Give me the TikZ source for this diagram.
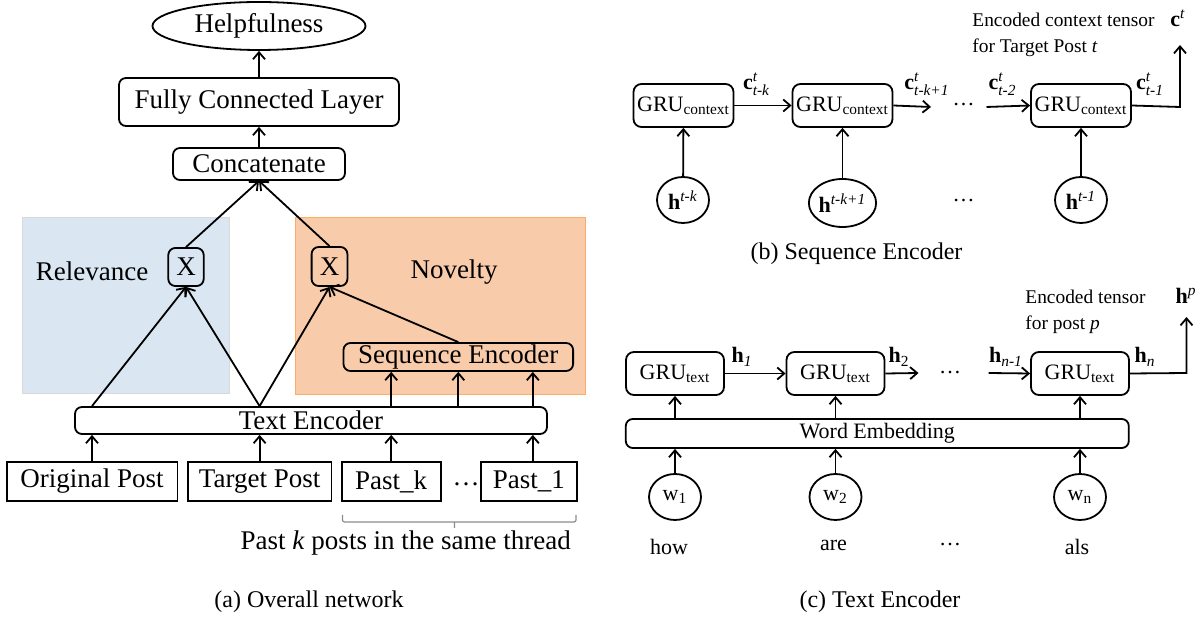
\documentclass[tikz,border=0pt]{standalone}
\usepackage{amsmath}
\usepackage{fontspec}
\setmainfont{Liberation Serif}
\usepackage{tikz}
\usetikzlibrary{arrows.meta,positioning,shapes.geometric,calc}
\definecolor{relblue}{RGB}{218,231,243}
\definecolor{novorange}{RGB}{248,203,170}

\begin{document}
\begin{tikzpicture}[
    x=0.5pt, y=-0.5pt,
    box/.style={draw, line width=0.9pt, rounded corners=3.5pt, inner sep=0pt,
                font=\fontsize{13.5}{16}\selectfont},
    inbox/.style={draw, line width=0.9pt, inner sep=0pt, minimum height=19.5pt,
                  font=\fontsize{13.5}{16}\selectfont},
    gru/.style={draw, line width=0.9pt, rounded corners=4pt, inner sep=0pt,
                minimum width=50pt, minimum height=21.5pt, font=\fontsize{11}{13}\selectfont},
    tok/.style={draw, ellipse, line width=0.9pt, inner sep=0pt, minimum width=26pt,
                minimum height=23pt, font=\fontsize{11}{13}\selectfont},
    arr/.style={-{Straight Barb[length=3.5pt,width=6pt]}, line width=0.9pt},
    big/.style={font=\fontsize{13.5}{16}\selectfont},
    mid/.style={font=\fontsize{11}{13}\selectfont},
    sml/.style={font=\fontsize{9.7}{12}\selectfont, align=left},
    captxt/.style={font=\fontsize{12}{14}\selectfont}
  ]
  \useasboundingbox (0,0) rectangle (1199,619);

  % --- (a) overall network ---
  \fill[relblue, draw=black!15] (22,217) rectangle (229,393);
  \fill[novorange, draw=orange!40!novorange] (295,217) rectangle (585,394);

  \node[draw, ellipse, line width=0.9pt, minimum width=106.5pt, minimum height=24pt,
        inner sep=0pt, big] (help) at (259,26) {Helpfulness};
  \node[box, minimum width=140pt, minimum height=24pt] (fcl) at (259,102) {Fully Connected Layer};
  \node[box, minimum width=86pt, minimum height=16pt] (concat) at (259,164) {Concatenate};
  \node[box, minimum width=17.7pt, minimum height=19pt] (xrel) at (186,267) {X};
  \node[box, minimum width=17.9pt, minimum height=19.5pt] (xnov) at (329.5,266.5) {X};
  \node[big] (rel) at (92,271) {Relevance};
  \node[big] (nov) at (454,272) {Novelty};
  \node[box, minimum width=114.8pt, minimum height=14pt] (seqenc) at (458.3,357) {Sequence Encoder};
  \node[box, minimum width=236pt, minimum height=13.5pt] (textenc) at (311,420.5) {Text Encoder};

  \node[inbox, minimum width=85.4pt] (orig) at (92,481.5) {Original Post};
  \node[inbox, minimum width=71.9pt] (target) at (259.6,481.5) {Target Post};
  \node[inbox, minimum width=49.6pt] (pastk) at (391.2,481.5) {Past\_k};
  \node[inbox, minimum width=48.1pt] (past1) at (528.8,481.5) {Past\_1};
  \node[big] (pdots) at (466,484) {\dots};
  \coordinate (p1top) at ([xshift=2pt]past1.north);

  \draw[arr] (fcl) -- (help);
  \draw[arr] (concat) -- (fcl);
  \draw[arr] (xrel.north) -- (concat.south);
  \draw[arr] (xnov.north) -- (concat.south);
  \draw[arr] (orig |- textenc.north) -- (xrel.south);
  \draw[arr] (target |- textenc.north) -- (xrel.south);
  \draw[arr] (target |- textenc.north) -- (xnov.south);
  \draw[arr] (seqenc.north) -- (xnov.south);
  \draw[arr] (pastk |- textenc.north) -- (pastk |- seqenc.south);
  \draw[arr] (seqenc.south |- textenc.north) -- (seqenc.south);
  \draw[arr] (p1top |- textenc.north) -- (p1top |- seqenc.south);
  \foreach \n in {orig,target,pastk}
    \draw[arr] (\n.north) -- (\n |- textenc.south);
  \draw[arr] (p1top) -- (p1top |- textenc.south);

  \draw[black!45, line width=0.6pt, rounded corners=1pt]
    (342.5,515) -- (342.5,522) -- (576,522) -- (576,515) (454.5,522) -- (454.5,528);
  \node[big, anchor=east] (pastnote) at (578,543) {Past \textit{k} posts in the same thread};
  \node[captxt] (capa) at (309,602) {(a) Overall network};

  % --- (b) sequence encoder ---
  \node[gru] (gc1) at (683.5,105.5) {GRU\textsubscript{context}};
  \node[gru] (gc2) at (842.5,105.5) {GRU\textsubscript{context}};
  \node[gru] (gc3) at (1081,105.5) {GRU\textsubscript{context}};
  \node[tok] (hc1) at (683,200) {\textbf{h}\textsuperscript{\textit{t-k}}};
  \node[tok, minimum height=24pt] (hc2) at (842.5,203) {\textbf{h}\textsuperscript{\textit{t-k+1}}};
  \node[tok] (hc3) at (1081,200) {\textbf{h}\textsuperscript{\textit{t-1}}};
  \node[mid] (cdots) at (963.5,105) {\dots};
  \node[mid] (hdots) at (963.5,201) {\dots};
  \coordinate (c2end) at (931,107);
  \coordinate (c3start) at (986.5,107);
  \coordinate (cbend) at (1180,107);
  \coordinate (ctop) at (1180,45);

  \foreach \i in {1,2,3}
    \draw[arr] (hc\i) -- (gc\i);
  \draw[arr] (gc1.east) -- (gc2.west);
  \draw[arr] (gc2.east) -- (c2end);
  \draw[arr] (c3start) -- (gc3.west);
  \draw[arr] (gc3.east) -- (cbend) -- (ctop);

  \node[mid, inner sep=1pt] (ctk) at (756.5,84) {$\textbf{c}^{\textit{t}}_{\textit{t-k}}$};
  \node[mid, inner sep=1pt] (ctk1) at (927,84) {$\textbf{c}^{\textit{t}}_{\textit{t-k+1}}$};
  \node[mid, inner sep=1pt] (ct2) at (1002.5,84) {$\textbf{c}^{\textit{t}}_{\textit{t-2}}$};
  \node[mid, inner sep=1pt] (ct1) at (1150,84) {$\textbf{c}^{\textit{t}}_{\textit{t-1}}$};
  \node[mid, inner sep=1pt] (ct) at (1178,18) {\textbf{c}\textsuperscript{\textit{t}}};
  \node[sml, anchor=north west, inner sep=0pt] (cnote) at (972,13)
    {Encoded context tensor\\[1pt] for Target Post \textit{t}};
  \node[captxt] (capb) at (856.5,254) {(b) Sequence Encoder};

  % --- (c) text encoder ---
  \node[gru, minimum width=49pt] (gt1) at (675,373.5) {GRU\textsubscript{text}};
  \node[gru, minimum width=49pt] (gt2) at (835.5,373.5) {GRU\textsubscript{text}};
  \node[gru, minimum width=49pt] (gt3) at (1080,373.5) {GRU\textsubscript{text}};
  \node[box, mid, minimum width=251.5pt, minimum height=14.5pt] (we) at (877.3,433.5) {Word Embedding};
  \node[tok] (w1) at (675,497) {w\textsubscript{1}};
  \node[tok] (w2) at (835.5,497) {w\textsubscript{2}};
  \node[tok] (w3) at (1080,497) {w\textsubscript{n}};
  \node[mid] (how) at (669,547) {how};
  \node[mid] (are) at (833.5,545) {are};
  \node[mid] (wdots) at (950,545) {\dots};
  \node[mid] (als) at (1077,547) {als};
  \node[mid] (tdots) at (950,373) {\dots};
  \coordinate (h2end) at (918.5,373);
  \coordinate (h3start) at (988.5,373);
  \coordinate (hbend) at (1186.5,373);
  \coordinate (htop) at (1186.5,317);

  \foreach \i in {1,2,3} {
    \draw[arr] (gt\i |- we.north) -- (gt\i);
    \draw[arr] (w\i) -- (w\i |- we.south);
  }
  \draw[arr] (gt1.east) -- (gt2.west);
  \draw[arr] (gt2.east) -- (h2end);
  \draw[arr] (h3start) -- (gt3.west);
  \draw[arr] (gt3.east) -- (hbend) -- (htop);

  \node[mid] (h1) at (742,357) {\textbf{h}\textsubscript{\textit{1}}};
  \node[mid] (h2) at (899,357) {\textbf{h}\textsubscript{2}};
  \node[mid] (hn1) at (1006,357) {\textbf{h}\textsubscript{\textit{n-1}}};
  \node[mid] (hn) at (1145,357) {\textbf{h}\textsubscript{\textit{n}}};
  \node[mid] (hp) at (1186,296) {\textbf{h}\textsuperscript{\textit{p}}};
  \node[sml, anchor=north west, inner sep=0pt] (tnote) at (1025,290)
    {Encoded tensor\\[1pt] for post \textit{p}};
  \node[captxt] (capc) at (880,602) {(c) Text Encoder};
\end{tikzpicture}
\end{document}
